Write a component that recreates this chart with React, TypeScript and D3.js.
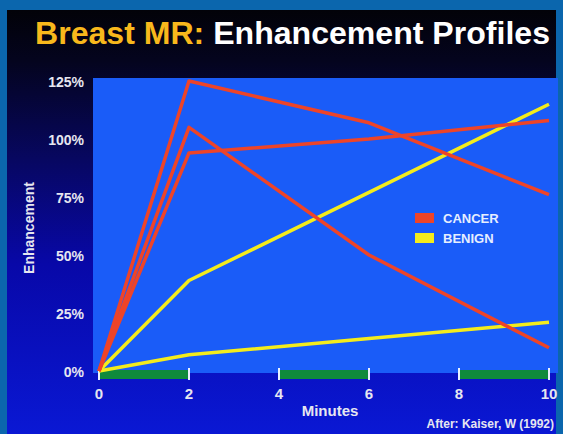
import * as d3 from "d3";

// time points (minutes)
const minutes = [0, 2, 6, 10];

// enhancement (%) per curve
const cancerA = [0, 125, 107, 76];
const cancerB = [0, 105, 50, 10];
const cancerC = [0, 94, 100, 108];
const benignA = [0, 39, 77, 115];
const benignB = [0, 7, 14, 21];

const xTicks = [0, 2, 4, 6, 8, 10];
const yTicks = [0, 25, 50, 75, 100, 125];
const greenBands = [[0, 2], [4, 6], [8, 10]];

const legendItems = [
  { label: "CANCER", color: "#ee4428" },
  { label: "BENIGN", color: "#f4ec1c" },
];

const W = 563;
const H = 434;
const font = "'Liberation Sans', Arial, sans-serif";

export default function App() {
  const x = d3.scaleLinear().domain([0, 10]).range([99, 549]);
  const y = d3.scaleLinear().domain([0, 125]).range([371, 81]);

  const line = d3
    .line<number>()
    .x((_, i) => x(minutes[i]))
    .y((d) => y(d));

  const cancers = [cancerA, cancerB, cancerC];
  const benigns = [benignA, benignB];

  return (
    <svg width={W} height={H} style={{ position: "absolute", left: 0, top: 0 }}>
      <defs>
        <linearGradient id="bg" x1="0" y1="0" x2="0" y2="1">
          <stop offset="0" stopColor="#020208" />
          <stop offset="0.12" stopColor="#04041e" />
          <stop offset="0.35" stopColor="#070760" />
          <stop offset="0.6" stopColor="#0808a8" />
          <stop offset="1" stopColor="#0a18d4" />
        </linearGradient>
      </defs>
      {/* frame */}
      <rect x={0} y={0} width={W} height={H} fill="#0b66ad" />
      <rect x={7} y={10} width={549} height={H - 10} fill="url(#bg)" />

      {/* title */}
      <text x={35} y={44} fontFamily={font} fontWeight="bold" fontSize={32} textLength={515} lengthAdjust="spacingAndGlyphs">
        <tspan fill="#f8b81c">Breast MR: </tspan>
        <tspan fill="#ffffff">Enhancement Profiles</tspan>
      </text>

      {/* plot area */}
      <rect x={93} y={78} width={465} height={295} fill="#1a5cf8" />

      {/* green time bands */}
      {greenBands.map(([a, b], i) => (
        <rect key={i} x={x(a)} y={370} width={x(b) - x(a)} height={9} fill="#0f8a3c" />
      ))}
      {xTicks.map((t) => (
        <line key={t} x1={x(t)} x2={x(t)} y1={368} y2={380} stroke="#e8f0ff" strokeWidth={2} />
      ))}

      {/* y labels */}
      {yTicks.map((t) => (
        <text key={t} x={84} y={y(t) + 6} textAnchor="end" fontFamily={font} fontWeight="bold" fontSize={14} fill="#e6e6f0">
          {t}%
        </text>
      ))}
      {/* x labels */}
      {xTicks.map((t) => (
        <text key={t} x={x(t)} y={399} textAnchor="middle" fontFamily={font} fontWeight="bold" fontSize={15} fill="#e6e6f0">
          {t}
        </text>
      ))}
      <text x={330} y={416} textAnchor="middle" fontFamily={font} fontWeight="bold" fontSize={15} fill="#e6e6f0">
        Minutes
      </text>
      <text
        transform={`translate(34,228) rotate(-90)`}
        textAnchor="middle"
        fontFamily={font}
        fontWeight="bold"
        fontSize={14}
        fill="#e6e6f0"
      >
        Enhancement
      </text>
      <text x={554} y={428} textAnchor="end" fontFamily={font} fontWeight="bold" fontSize={12} fill="#e6e6f0">
        After: Kaiser, W (1992)
      </text>

      {/* curves */}
      {benigns.map((d, i) => (
        <path key={"b" + i} d={line(d) ?? ""} fill="none" stroke="#f4ec1c" strokeWidth={3.5} strokeLinejoin="round" />
      ))}
      {cancers.map((d, i) => (
        <path key={"c" + i} d={line(d) ?? ""} fill="none" stroke="#ee4428" strokeWidth={3.5} strokeLinejoin="round" />
      ))}

      {/* legend */}
      {legendItems.map((it, i) => (
        <g key={it.label} transform={`translate(415,${213 + i * 20})`}>
          <rect x={0} y={0} width={19} height={10} fill={it.color} />
          <text x={28} y={10} fontFamily={font} fontWeight="bold" fontSize={13} fill="#e6eeff">
            {it.label}
          </text>
        </g>
      ))}
    </svg>
  );
}
